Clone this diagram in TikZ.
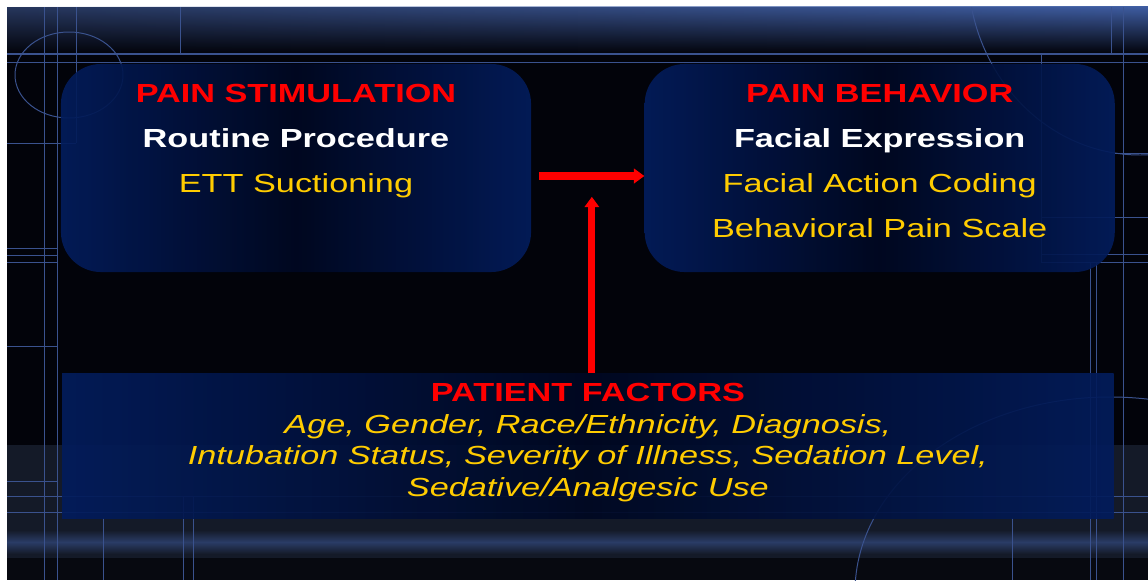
\documentclass[tikz,border=0pt]{standalone}
\usepackage{fontspec}
\setmainfont{Liberation Sans}[FakeStretch=1.31]
\usetikzlibrary{positioning,arrows.meta,calc,fadings}
\definecolor{SlideBlack}{RGB}{2,3,10}
\definecolor{TopBlue}{RGB}{38,54,92}
\definecolor{TopBright}{RGB}{62,92,160}
\definecolor{BandGrey}{RGB}{20,26,40}
\definecolor{BandGlow}{RGB}{42,60,102}
\definecolor{BandDark}{RGB}{7,9,16}
\definecolor{GridBlue}{RGB}{58,82,142}
\definecolor{PanelBlue}{RGB}{2,28,92}
\definecolor{PanelDark}{RGB}{0,8,34}
\definecolor{TitleRed}{RGB}{255,0,0}
\definecolor{FactorGold}{RGB}{255,204,0}
\tikzset{
  gridline/.style={draw=GridBlue,line width=0.7pt},
  panel/.style={draw=none,left color=PanelBlue,right color=PanelBlue,middle color=PanelDark,
    fill opacity=0.92,inner sep=0pt},
  roundpanel/.style={panel,rounded corners=1cm,minimum width=11.75cm,minimum height=5.2cm},
  redflow/.style={-{Triangle[length=2.6mm,width=3.6mm]},line width=5pt,draw=TitleRed},
  paneltext/.style={text=white,align=center,inner sep=0pt,
    font=\fontsize{18.6pt}{32pt}\selectfont}
}

\begin{document}
\begin{tikzpicture}[x=0.025cm,y=-0.025cm]
  \useasboundingbox (0,0) rectangle (1148,580);
  % slide background
  \fill[white] (0,0) rectangle (1148,580);
  \fill[SlideBlack] (7,7) rectangle (1148,580);
  \shade[top color=TopBlue,bottom color=SlideBlack] (7,7) rectangle (1148,54);
  \shade[top color=TopBright,bottom color=SlideBlack,path fading=west] (7,7) rectangle (1148,54);
  \fill[BandGrey] (7,445) rectangle (1148,558);
  \shade[top color=BandGrey,bottom color=BandGlow] (7,530) rectangle (1148,542);
  \shade[top color=BandGlow,bottom color=BandGrey] (7,542) rectangle (1148,554);
  \fill[BandDark] (7,558) rectangle (1148,580);
  \begin{scope}
    \clip (7,7) rectangle (1148,580);
    \draw[gridline,line width=1.4pt] (7,54) -- (1148,54);
    \draw[gridline] (7,62) -- (1148,62);
    \foreach \gx in {44,57,1123}
      \draw[gridline] (\gx,7) -- (\gx,580);
    \draw[gridline] (76,7) -- (76,143);
    \draw[gridline] (180,7) -- (180,54);
    \draw[gridline] (1111,7) -- (1111,54);
    \draw[gridline] (1041,54) -- (1041,262);
    \draw[gridline] (7,143) -- (76,143);
    \foreach \gy in {248,255,262,346,481}
      \draw[gridline] (7,\gy) -- (57,\gy);
    \foreach \gy in {217,254,262}
      \draw[gridline] (1041,\gy) -- (1148,\gy);
    \draw[gridline] (1115,153) -- (1148,153);
    \foreach \gy in {496,512}
      \draw[gridline] (7,\gy) -- (1148,\gy);
    \foreach \gx in {1090,1096}
      \draw[gridline] (\gx,262) -- (\gx,580);
    \foreach \gx in {103,1012}
      \draw[gridline] (\gx,518) -- (\gx,580);
    \foreach \gx in {183,193}
      \draw[gridline] (\gx,496) -- (\gx,580);
    \draw[gridline] (69,75) ellipse [x radius=54,y radius=43];
    \draw[gridline] (1140,-30) ellipse [x radius=172,y radius=185];
    \draw[gridline] (1110,592) ellipse [x radius=255,y radius=195];
  \end{scope}

  % the three panels
  \node[roundpanel] (stim) at (296,168) {};
  \node[roundpanel,right=2.825cm of stim] (behav) {};
  \coordinate (mid) at ($(stim.east)!0.5!(behav.west)$);
  \node[panel,minimum width=26.275cm,minimum height=3.625cm,below=5.125cm of mid] (factors) {};

  \node[paneltext,below=0.5cm of stim.north] (stimtext) {%
    \textcolor{TitleRed}{\textbf{PAIN STIMULATION}}\\
    \textbf{Routine Procedure}\\
    \textcolor{FactorGold}{ETT Suctioning}};
  \node[paneltext,below=0.5cm of behav.north] (behavtext) {%
    \textcolor{TitleRed}{\textbf{PAIN BEHAVIOR}}\\
    \textbf{Facial Expression}\\
    \textcolor{FactorGold}{Facial Action Coding}\\
    \textcolor{FactorGold}{Behavioral Pain Scale}};
  \node[paneltext,font=\fontsize{18.6pt}{22.4pt}\selectfont,below=0.25cm of factors.north] (factortext) {%
    \textcolor{TitleRed}{\textbf{PATIENT FACTORS}}\\
    \textcolor{FactorGold}{\textit{Age, Gender, Race/Ethnicity, Diagnosis,}}\\
    \textcolor{FactorGold}{\textit{Intubation Status, Severity of Illness, Sedation Level,}}\\
    \textcolor{FactorGold}{\textit{Sedative/Analgesic Use}}};

  \draw[redflow] ([xshift=0.2cm,yshift=-0.2cm]stim.east) -- ([yshift=-0.2cm]behav.west);
  \draw[redflow] ([xshift=0.1cm]factors.north) -- ([xshift=0.1cm,yshift=-0.72cm]mid);
\end{tikzpicture}
\end{document}
